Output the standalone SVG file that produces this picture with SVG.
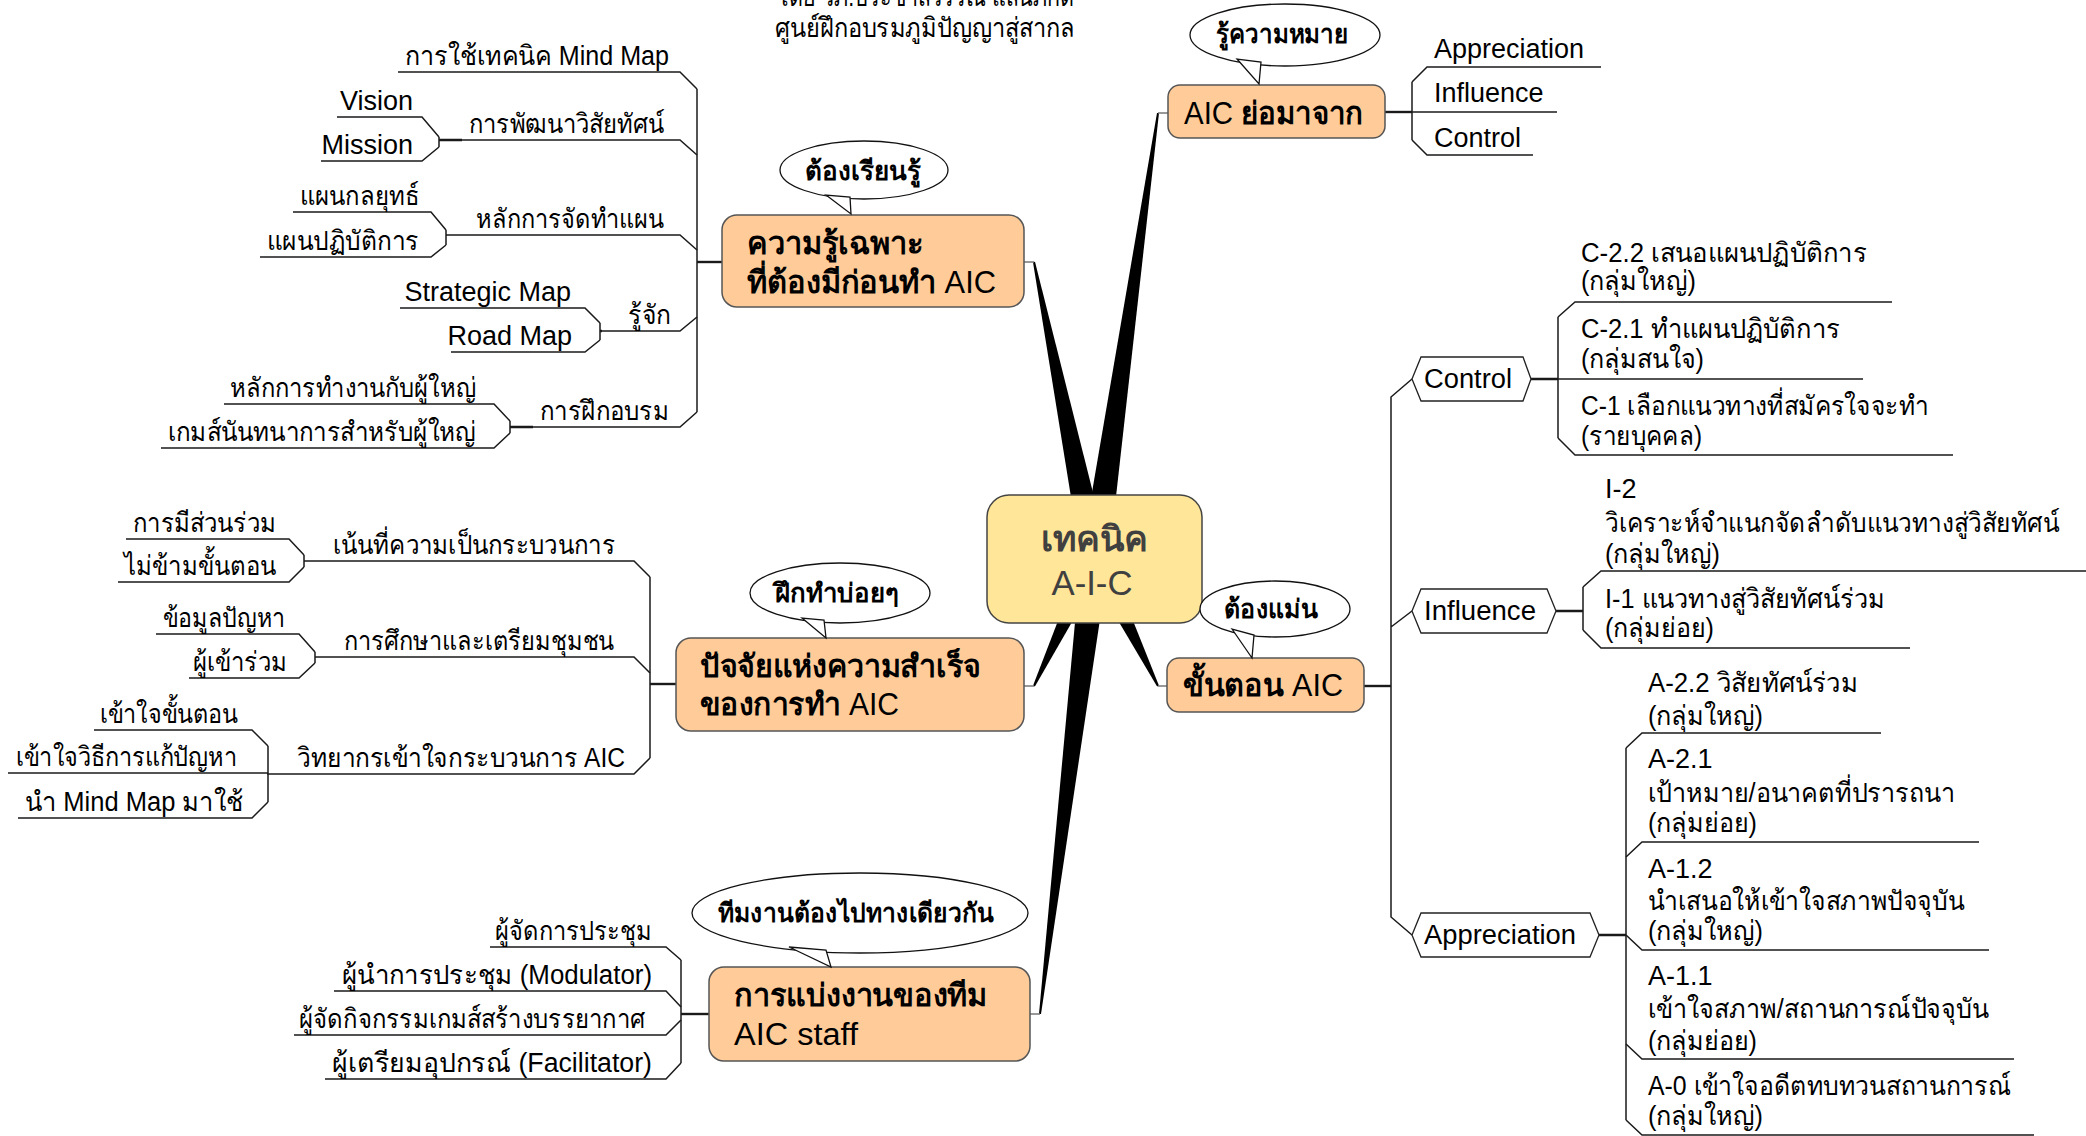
<svg xmlns="http://www.w3.org/2000/svg" width="2086" height="1136" viewBox="0 0 2086 1136">
<style>
text{font-family:'Liberation Sans','Noto Sans','DejaVu Sans',sans-serif;font-size:27px;fill:#000}
.nb{font-weight:bold;font-size:31px}
.nr{font-weight:normal}
.bb{font-weight:bold;font-size:26px}
.ct{font-size:35px;fill:#404040}
.ln{fill:none;stroke:#1a1a1a;stroke-width:1.5}
.lk{fill:none;stroke:#1a1a1a;stroke-width:2.4}
.thin{fill:none;stroke:#777;stroke-width:1.3}
.node{fill:#FFCC99;stroke:#555;stroke-width:1.5}
.center{fill:#FFE699;stroke:#444;stroke-width:1.5}
.hex{fill:#fff;stroke:#222;stroke-width:1.3}
.bub{fill:#fff;stroke:#111;stroke-width:1.3}
.wedge{fill:#000}
</style>

<g id="title">
<text x="777" y="6" textLength="297" lengthAdjust="spacingAndGlyphs">โดย วภ.ประชาสวรรณ แสนภักดี</text>
<text x="775" y="37" textLength="300" lengthAdjust="spacingAndGlyphs">ศูนย์ฝึกอบรมภูมิปัญญาสู่สากล</text>
</g>

<g id="connectors">
<!-- wedges from center -->
<polygon class="wedge" points="1108.7,555.2 1035,261.8 1033,262.2 1081.3,560.8"/>
<polygon class="wedge" points="1108.9,560 1159,113.1 1157,112.9 1081.1,556"/>
<polygon class="wedge" points="1084.2,552.8 1033.1,685.6 1034.9,686.4 1105.8,563.2"/>
<polygon class="wedge" points="1081.1,556.3 1039,1013.9 1041,1014.1 1108.9,559.7"/>
<polygon class="wedge" points="1084.2,563.3 1157.1,686.4 1158.9,685.6 1105.8,552.7"/>
<path class="thin" d="M1024,262 L1034,262 M1158,113 L1168,113 M1024,686 L1034,686 M1030,1014 L1040,1014 M1158,686 L1167,686"/>
<!-- left top trunk -->
<path class="ln" d="M697,89 L697,412"/>
<path class="lk" d="M697,262 L722,262"/>
<path class="ln" d="M439,137 L439,147 M446,230 L446,245 M600,323 L600,340 M510,421 L510,433"/>
<path class="lk" d="M439,140 L462,140 M510,427 L533,427 M600,331 L602,331"/>
<!-- left middle -->
<path class="ln" d="M650,577 L650,758"/>
<path class="lk" d="M650,684 L676,684"/>
<path class="ln" d="M304,555 L304,567 M315,652 L315,663 M268,746 L268,802"/>
<!-- bottom left -->
<path class="ln" d="M681,960 L681,1063"/>
<path class="lk" d="M681,1014 L709,1014"/>
<!-- right top -->
<path class="ln" d="M1412,82 L1412,140"/>
<path class="lk" d="M1385,112 L1412,112"/>
<!-- right main -->
<path class="lk" d="M1364,686 L1391,686"/>
<path class="ln" d="M1412,379 L1391,397 L1391,917 L1412,935 M1391,627 L1412,611"/>
<path class="ln" d="M1558,317 L1558,438 M1583,587 L1583,630 M1626,748 L1626,1120"/>
<path class="lk" d="M1531,379 L1558,379 M1556,611 L1583,611 M1599,935 L1626,935"/>
</g>

<!-- ===== Left top: ความรู้เฉพาะ subtree ===== -->
<g id="t-mindmap"><path class="ln" d="M398,72 L680,72 L697,89"/><text x="669" y="65" text-anchor="end" textLength="264" lengthAdjust="spacingAndGlyphs">การใช้เทคนิค Mind Map</text></g>
<g id="t-vision-dev"><path class="ln" d="M462,140 L680,140 L697,155"/><text x="664" y="133" text-anchor="end" textLength="195" lengthAdjust="spacingAndGlyphs">การพัฒนาวิสัยทัศน์</text></g>
<g id="t-vision"><path class="ln" d="M337,117 L422,117 L439,137"/><text x="413" y="110" text-anchor="end">Vision</text></g>
<g id="t-mission"><path class="ln" d="M321,161 L422,161 L439,147"/><text x="413" y="154" text-anchor="end">Mission</text></g>
<g id="t-plan"><path class="ln" d="M446,235 L680,235 L697,250"/><text x="664" y="228" text-anchor="end" textLength="188" lengthAdjust="spacingAndGlyphs">หลักการจัดทำแผน</text></g>
<g id="t-strat-plan"><path class="ln" d="M293,212 L431,212 L446,230"/><text x="419" y="205" text-anchor="end" textLength="119" lengthAdjust="spacingAndGlyphs">แผนกลยุทธ์</text></g>
<g id="t-action-plan"><path class="ln" d="M260,257 L431,257 L446,245"/><text x="419" y="250" text-anchor="end" textLength="152" lengthAdjust="spacingAndGlyphs">แผนปฏิบัติการ</text></g>
<g id="t-know"><path class="ln" d="M602,331 L680,331 L697,317"/><text x="671" y="324" text-anchor="end" textLength="43" lengthAdjust="spacingAndGlyphs">รู้จัก</text></g>
<g id="t-stratmap"><path class="ln" d="M400,308 L585,308 L600,323"/><text x="571" y="301" text-anchor="end">Strategic Map</text></g>
<g id="t-roadmap"><path class="ln" d="M451,352 L585,352 L600,340"/><text x="572" y="345" text-anchor="end">Road Map</text></g>
<g id="t-train"><path class="ln" d="M533,427 L680,427 L697,412"/><text x="669" y="420" text-anchor="end" textLength="129" lengthAdjust="spacingAndGlyphs">การฝึกอบรม</text></g>
<g id="t-elder"><path class="ln" d="M224,404 L494,404 L510,421"/><text x="476" y="397" text-anchor="end" textLength="246" lengthAdjust="spacingAndGlyphs">หลักการทำงานกับผู้ใหญ่</text></g>
<g id="t-game"><path class="ln" d="M161,448 L494,448 L510,433"/><text x="476" y="441" text-anchor="end" textLength="308" lengthAdjust="spacingAndGlyphs">เกมส์นันทนาการสำหรับผู้ใหญ่</text></g>

<!-- ===== Left middle: ปัจจัย subtree ===== -->
<g id="t-process"><path class="ln" d="M304,561 L634,561 L650,577"/><text x="615" y="554" text-anchor="end" textLength="282" lengthAdjust="spacingAndGlyphs">เน้นที่ความเป็นกระบวนการ</text></g>
<g id="t-particip"><path class="ln" d="M126,539 L289,539 L304,555"/><text x="276" y="532" text-anchor="end" textLength="143" lengthAdjust="spacingAndGlyphs">การมีส่วนร่วม</text></g>
<g id="t-noskip"><path class="ln" d="M118,582 L289,582 L304,567"/><text x="276" y="575" text-anchor="end" textLength="152" lengthAdjust="spacingAndGlyphs">ไม่ข้ามขั้นตอน</text></g>
<g id="t-study"><path class="ln" d="M315,657 L634,657 L650,673"/><text x="614" y="650" text-anchor="end" textLength="270" lengthAdjust="spacingAndGlyphs">การศึกษาและเตรียมชุมชน</text></g>
<g id="t-probdata"><path class="ln" d="M156,634 L299,634 L315,652"/><text x="285" y="627" text-anchor="end" textLength="122" lengthAdjust="spacingAndGlyphs">ข้อมูลปัญหา</text></g>
<g id="t-attend"><path class="ln" d="M189,678 L299,678 L315,663"/><text x="287" y="671" text-anchor="end" textLength="94" lengthAdjust="spacingAndGlyphs">ผู้เข้าร่วม</text></g>
<g id="t-speaker"><path class="ln" d="M267,774 L634,774 L650,758"/><text x="625" y="767" text-anchor="end" textLength="328" lengthAdjust="spacingAndGlyphs">วิทยากรเข้าใจกระบวนการ AIC</text></g>
<g id="t-steps"><path class="ln" d="M94,730 L252,730 L268,746"/><text x="238" y="723" text-anchor="end" textLength="138" lengthAdjust="spacingAndGlyphs">เข้าใจขั้นตอน</text></g>
<g id="t-solve"><path class="ln" d="M8,773 L268,773"/><text x="237" y="766" text-anchor="end" textLength="221" lengthAdjust="spacingAndGlyphs">เข้าใจวิธีการแก้ปัญหา</text></g>
<g id="t-usemm"><path class="ln" d="M18,818 L252,818 L268,802"/><text x="243" y="811" text-anchor="end" textLength="218" lengthAdjust="spacingAndGlyphs">นำ Mind  Map มาใช้</text></g>

<!-- ===== Bottom left: การแบ่งงาน subtree ===== -->
<g id="t-organizer"><path class="ln" d="M490,947 L666,947 L681,960"/><text x="652" y="940" text-anchor="end" textLength="157" lengthAdjust="spacingAndGlyphs">ผู้จัดการประชุม</text></g>
<g id="t-modulator"><path class="ln" d="M334,991 L666,991 L681,1007"/><text x="652" y="984" text-anchor="end" textLength="310" lengthAdjust="spacingAndGlyphs">ผู้นำการประชุม (Modulator)</text></g>
<g id="t-activity"><path class="ln" d="M294,1035 L666,1035 L681,1020"/><text x="645" y="1028" text-anchor="end" textLength="346" lengthAdjust="spacingAndGlyphs">ผู้จัดกิจกรรมเกมส์สร้างบรรยากาศ</text></g>
<g id="t-facilitator"><path class="ln" d="M325,1079 L666,1079 L681,1063"/><text x="652" y="1072" text-anchor="end" textLength="320" lengthAdjust="spacingAndGlyphs">ผู้เตรียมอุปกรณ์ (Facilitator)</text></g>

<!-- ===== Right top: AIC ย่อมาจาก children ===== -->
<g id="t-r-app"><path class="ln" d="M1412,82 L1427,67 L1601,67"/><text x="1434" y="58">Appreciation</text></g>
<g id="t-r-inf"><path class="ln" d="M1412,112 L1557,112"/><text x="1434" y="102">Influence</text></g>
<g id="t-r-con"><path class="ln" d="M1412,140 L1427,155 L1533,155"/><text x="1434" y="147">Control</text></g>

<!-- ===== Right: ขั้นตอน AIC subtree ===== -->
<g id="h-control"><polygon class="hex" points="1412,379 1421,357 1523,357 1531,379 1523,401 1421,401"/><text x="1424" y="388" textLength="88" lengthAdjust="spacingAndGlyphs">Control</text></g>
<g id="h-influence"><polygon class="hex" points="1412,611 1421,589 1547,589 1556,611 1547,633 1421,633"/><text x="1424" y="620" textLength="112" lengthAdjust="spacingAndGlyphs">Influence</text></g>
<g id="h-appreciation"><polygon class="hex" points="1412,935 1421,913 1590,913 1599,935 1590,957 1421,957"/><text x="1424" y="944" textLength="152" lengthAdjust="spacingAndGlyphs">Appreciation</text></g>

<g id="t-c22"><path class="ln" d="M1558,317 L1575,302 L1892,302"/><text x="1581" y="262" textLength="286" lengthAdjust="spacingAndGlyphs">C-2.2 เสนอแผนปฏิบัติการ</text><text x="1581" y="290" textLength="115" lengthAdjust="spacingAndGlyphs">(กลุ่มใหญ่)</text></g>
<g id="t-c21"><path class="ln" d="M1558,379 L1863,379"/><text x="1581" y="338" textLength="259" lengthAdjust="spacingAndGlyphs">C-2.1 ทำแผนปฏิบัติการ</text><text x="1581" y="368" textLength="123" lengthAdjust="spacingAndGlyphs">(กลุ่มสนใจ)</text></g>
<g id="t-c1"><path class="ln" d="M1558,438 L1575,455 L1953,455"/><text x="1581" y="415" textLength="348" lengthAdjust="spacingAndGlyphs">C-1 เลือกแนวทางที่สมัครใจจะทำ</text><text x="1581" y="445" textLength="121" lengthAdjust="spacingAndGlyphs">(รายบุคคล)</text></g>

<g id="t-i2"><path class="ln" d="M1583,587 L1601,571 L2086,571"/><text x="1605" y="498">I-2</text><text x="1605" y="532" textLength="454" lengthAdjust="spacingAndGlyphs">วิเคราะห์จำแนกจัดลำดับแนวทางสู่วิสัยทัศน์</text><text x="1605" y="563" textLength="115" lengthAdjust="spacingAndGlyphs">(กลุ่มใหญ่)</text></g>
<g id="t-i1"><path class="ln" d="M1583,630 L1601,648 L1910,648"/><text x="1605" y="608" textLength="280" lengthAdjust="spacingAndGlyphs">I-1 แนวทางสู่วิสัยทัศน์ร่วม</text><text x="1605" y="637" textLength="109" lengthAdjust="spacingAndGlyphs">(กลุ่มย่อย)</text></g>

<g id="t-a22"><path class="ln" d="M1626,748 L1642,733 L1881,733"/><text x="1648" y="692" textLength="210" lengthAdjust="spacingAndGlyphs">A-2.2 วิสัยทัศน์ร่วม</text><text x="1648" y="725" textLength="115" lengthAdjust="spacingAndGlyphs">(กลุ่มใหญ่)</text></g>
<g id="t-a21"><path class="ln" d="M1626,857 L1642,842 L1979,842"/><text x="1648" y="768">A-2.1</text><text x="1648" y="802" textLength="307" lengthAdjust="spacingAndGlyphs">เป้าหมาย/อนาคตที่ปรารถนา</text><text x="1648" y="832" textLength="109" lengthAdjust="spacingAndGlyphs">(กลุ่มย่อย)</text></g>
<g id="t-a12"><path class="ln" d="M1626,935 L1642,950 L1989,950"/><text x="1648" y="878">A-1.2</text><text x="1648" y="910" textLength="316" lengthAdjust="spacingAndGlyphs">นำเสนอให้เข้าใจสภาพปัจจุบัน</text><text x="1648" y="940" textLength="115" lengthAdjust="spacingAndGlyphs">(กลุ่มใหญ่)</text></g>
<g id="t-a11"><path class="ln" d="M1626,1044 L1642,1059 L2014,1059"/><text x="1648" y="985">A-1.1</text><text x="1648" y="1018" textLength="341" lengthAdjust="spacingAndGlyphs">เข้าใจสภาพ/สถานการณ์ปัจจุบัน</text><text x="1648" y="1050" textLength="109" lengthAdjust="spacingAndGlyphs">(กลุ่มย่อย)</text></g>
<g id="t-a0"><path class="ln" d="M1626,1120 L1642,1135 L2034,1135"/><text x="1648" y="1095" textLength="363" lengthAdjust="spacingAndGlyphs">A-0 เข้าใจอดีตทบทวนสถานการณ์</text><text x="1648" y="1125" textLength="115" lengthAdjust="spacingAndGlyphs">(กลุ่มใหญ่)</text></g>

<!-- ===== Main nodes ===== -->
<g id="n-knowledge"><rect class="node" x="722" y="215" width="302" height="92" rx="15"/><text class="nb" x="747" y="254" textLength="177" lengthAdjust="spacingAndGlyphs">ความรู้เฉพาะ</text><text class="nb" x="747" y="293" textLength="249" lengthAdjust="spacingAndGlyphs">ที่ต้องมีก่อนทำ <tspan class="nr">AIC</tspan></text></g>
<g id="n-abbr"><rect class="node" x="1168" y="85" width="217" height="53" rx="12"/><text class="nb" x="1184" y="124" textLength="179" lengthAdjust="spacingAndGlyphs"><tspan class="nr">AIC</tspan> ย่อมาจาก</text></g>
<g id="n-success"><rect class="node" x="676" y="638" width="348" height="93" rx="15"/><text class="nb" x="700" y="677" textLength="281" lengthAdjust="spacingAndGlyphs">ปัจจัยแห่งความสำเร็จ</text><text class="nb" x="700" y="715" textLength="199" lengthAdjust="spacingAndGlyphs">ของการทำ <tspan class="nr">AIC</tspan></text></g>
<g id="n-steps"><rect class="node" x="1167" y="658" width="197" height="54" rx="12"/><text class="nb" x="1183" y="696" textLength="160" lengthAdjust="spacingAndGlyphs">ขั้นตอน <tspan class="nr">AIC</tspan></text></g>
<g id="n-team"><rect class="node" x="709" y="967" width="321" height="94" rx="15"/><text class="nb" x="734" y="1006" textLength="253" lengthAdjust="spacingAndGlyphs">การแบ่งงานของทีม</text><text class="nb nr" x="734" y="1045" textLength="124" lengthAdjust="spacingAndGlyphs">AIC staff</text></g>
<g id="n-center"><rect class="center" x="987" y="495" width="215" height="128" rx="22"/><text class="ct" x="1094" y="551" text-anchor="middle" font-weight="bold" textLength="107" lengthAdjust="spacingAndGlyphs">เทคนิค</text><text class="ct" x="1092" y="595" text-anchor="middle" textLength="81" lengthAdjust="spacingAndGlyphs">A-I-C</text></g>

<!-- ===== Callout bubbles ===== -->
<g id="b-learn"><ellipse class="bub" cx="864" cy="170" rx="84" ry="29"/><polygon class="bub" points="826,195 851,214 850,197"/><text class="bb" x="805" y="180" textLength="116" lengthAdjust="spacingAndGlyphs">ต้องเรียนรู้</text></g>
<g id="b-meaning"><ellipse class="bub" cx="1285" cy="35" rx="95" ry="31"/><polygon class="bub" points="1237,59 1259,84 1261,62"/><text class="bb" x="1216" y="43" textLength="132" lengthAdjust="spacingAndGlyphs">รู้ความหมาย</text></g>
<g id="b-practice"><ellipse class="bub" cx="840" cy="593" rx="90" ry="30"/><polygon class="bub" points="802,618 826,638 824,620"/><text class="bb" x="775" y="602" textLength="124" lengthAdjust="spacingAndGlyphs">ฝึกทำบ่อยๆ</text></g>
<g id="b-precise"><ellipse class="bub" cx="1275" cy="609" rx="75" ry="28"/><polygon class="bub" points="1232,629 1252,658 1254,635"/><text class="bb" x="1224" y="618" textLength="94" lengthAdjust="spacingAndGlyphs">ต้องแม่น</text></g>
<g id="b-team"><ellipse class="bub" cx="860" cy="913" rx="168" ry="40"/><polygon class="bub" points="789,947 831,967 826,950"/><text class="bb" x="718" y="922" textLength="276" lengthAdjust="spacingAndGlyphs">ทีมงานต้องไปทางเดียวกัน</text></g>
</svg>
